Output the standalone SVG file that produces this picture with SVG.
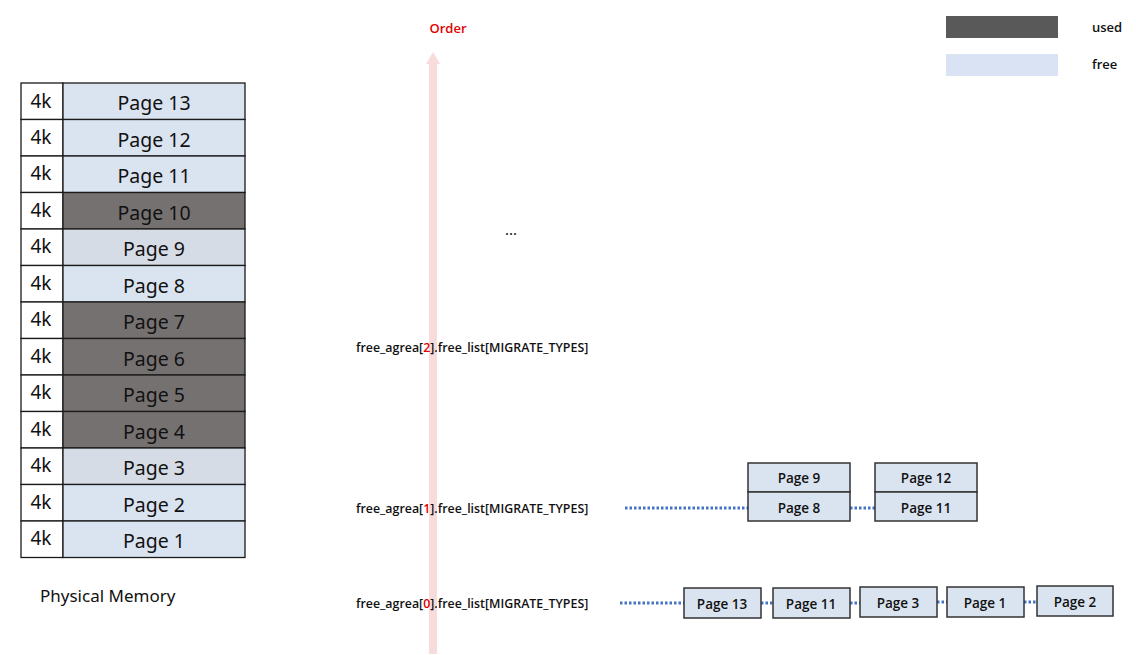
<svg xmlns="http://www.w3.org/2000/svg" width="1136" height="655" viewBox="0 0 1136 655">
<style>
.cell{stroke:#1a1a1a;stroke-width:1.3}
.k{fill:#fff}
.fr{fill:#dae3f0}
.fg{fill:#d6dce5}
.us{fill:#767171}
.t{font-family:"Noto Sans","DejaVu Sans",sans-serif;font-size:19.5px;fill:#111;text-anchor:middle;dominant-baseline:central}
.k4{font-family:"Noto Sans","DejaVu Sans",sans-serif;font-size:19px;fill:#111;text-anchor:middle;dominant-baseline:central}
.lbl{font-family:"Open Sans","Liberation Sans",sans-serif;font-size:12.4px;font-weight:600;fill:#111;dominant-baseline:central}
.box{fill:#dae3f0;stroke:#333;stroke-width:1.5}
.bt{font-family:"Open Sans","Liberation Sans",sans-serif;font-size:13.5px;font-weight:600;fill:#111;text-anchor:middle;dominant-baseline:central}
.dot{stroke:#4472c4;stroke-width:3;stroke-dasharray:2.5 2}
</style>
<g id="order-arrow">
<rect x="429" y="62" width="8" height="592" fill="#f8dcdc"/>
<polygon points="426,64 433,52 440,64" fill="#f8dcdc"/>
<text x="448" y="28" class="lbl" style="fill:#e00000;font-size:13px;text-anchor:middle">Order</text>
</g>
<g id="legend">
<rect x="946" y="16" width="112" height="22" fill="#595959"/>
<text x="1092" y="27" class="lbl" style="font-size:13px">used</text>
<rect x="946" y="54" width="112" height="22" fill="#dae3f3"/>
<text x="1092" y="64" class="lbl" style="font-size:13px">free</text>
</g>
<g id="physical-memory">
<g id="row13"><rect class="cell k" x="21" y="83" width="42" height="36.5"/><rect class="cell fr" x="63" y="83" width="182" height="36.5"/><text class="k4" x="41" y="101">4k</text><text class="t" x="154" y="102">Page 13</text></g>
<g id="row12"><rect class="cell k" x="21" y="119.5" width="42" height="36.5"/><rect class="cell fr" x="63" y="119.5" width="182" height="36.5"/><text class="k4" x="41" y="137">4k</text><text class="t" x="154" y="139">Page 12</text></g>
<g id="row11"><rect class="cell k" x="21" y="156" width="42" height="36.5"/><rect class="cell fr" x="63" y="156" width="182" height="36.5"/><text class="k4" x="41" y="173">4k</text><text class="t" x="154" y="175">Page 11</text></g>
<g id="row10"><rect class="cell k" x="21" y="192.5" width="42" height="36.5"/><rect class="cell us" x="63" y="192.5" width="182" height="36.5"/><text class="k4" x="41" y="210">4k</text><text class="t" x="154" y="212">Page 10</text></g>
<g id="row9"><rect class="cell k" x="21" y="229" width="42" height="36.5"/><rect class="cell fg" x="63" y="229" width="182" height="36.5"/><text class="k4" x="41" y="246">4k</text><text class="t" x="154" y="248">Page 9</text></g>
<g id="row8"><rect class="cell k" x="21" y="265.5" width="42" height="36.5"/><rect class="cell fr" x="63" y="265.5" width="182" height="36.5"/><text class="k4" x="41" y="283">4k</text><text class="t" x="154" y="285">Page 8</text></g>
<g id="row7"><rect class="cell k" x="21" y="302" width="42" height="36.5"/><rect class="cell us" x="63" y="302" width="182" height="36.5"/><text class="k4" x="41" y="319">4k</text><text class="t" x="154" y="321">Page 7</text></g>
<g id="row6"><rect class="cell k" x="21" y="338.5" width="42" height="36.5"/><rect class="cell us" x="63" y="338.5" width="182" height="36.5"/><text class="k4" x="41" y="356">4k</text><text class="t" x="154" y="358">Page 6</text></g>
<g id="row5"><rect class="cell k" x="21" y="375" width="42" height="36.5"/><rect class="cell us" x="63" y="375" width="182" height="36.5"/><text class="k4" x="41" y="392">4k</text><text class="t" x="154" y="394">Page 5</text></g>
<g id="row4"><rect class="cell k" x="21" y="411.5" width="42" height="36.5"/><rect class="cell us" x="63" y="411.5" width="182" height="36.5"/><text class="k4" x="41" y="429">4k</text><text class="t" x="154" y="431">Page 4</text></g>
<g id="row3"><rect class="cell k" x="21" y="448" width="42" height="36.5"/><rect class="cell fg" x="63" y="448" width="182" height="36.5"/><text class="k4" x="41" y="465">4k</text><text class="t" x="154" y="467">Page 3</text></g>
<g id="row2"><rect class="cell k" x="21" y="484.5" width="42" height="36.5"/><rect class="cell fr" x="63" y="484.5" width="182" height="36.5"/><text class="k4" x="41" y="502">4k</text><text class="t" x="154" y="504">Page 2</text></g>
<g id="row1"><rect class="cell k" x="21" y="521" width="42" height="36.5"/><rect class="cell fr" x="63" y="521" width="182" height="36.5"/><text class="k4" x="41" y="538">4k</text><text class="t" x="154" y="540">Page 1</text></g>
<text x="40" y="595" style="font-family:'Noto Sans','DejaVu Sans',sans-serif;font-size:17px;fill:#111;dominant-baseline:central">Physical Memory</text>
</g>
<g id="ellipsis"><text x="511" y="229" style="font-family:'Noto Sans','DejaVu Sans',sans-serif;font-size:15px;fill:#111;text-anchor:middle;dominant-baseline:central">...</text></g>
<g id="labels">
<text x="356" y="347" class="lbl">free_agrea[<tspan fill="#e00000" style="fill:#e00000">2</tspan>].free_list[MIGRATE_TYPES]</text>
<text x="356" y="508" class="lbl">free_agrea[<tspan fill="#e00000" style="fill:#e00000">1</tspan>].free_list[MIGRATE_TYPES]</text>
<text x="356" y="603" class="lbl">free_agrea[<tspan fill="#e00000" style="fill:#e00000">0</tspan>].free_list[MIGRATE_TYPES]</text>
</g>
<g id="connectors">
<line class="dot" x1="625" y1="508" x2="748" y2="508"/>
<line class="dot" x1="850" y1="508" x2="875" y2="508"/>
<line class="dot" x1="620" y1="603" x2="684" y2="603"/>
<line class="dot" x1="761" y1="603" x2="773" y2="603"/>
<line class="dot" x1="850" y1="603" x2="860" y2="603"/>
<line class="dot" x1="937" y1="602" x2="947" y2="602"/>
<line class="dot" x1="1024" y1="602" x2="1037" y2="602"/>
</g>
<g id="order1-block-a"><rect class="box" x="748" y="463" width="102" height="29"/><text class="bt" x="799" y="478">Page 9</text><rect class="box" x="748" y="492" width="102" height="29"/><text class="bt" x="799" y="508">Page 8</text></g>
<g id="order1-block-b"><rect class="box" x="875" y="463" width="102" height="29"/><text class="bt" x="926" y="478">Page 12</text><rect class="box" x="875" y="492" width="102" height="29"/><text class="bt" x="926" y="508">Page 11</text></g>
<g id="o0-p13"><rect class="box" x="684" y="588" width="77" height="30"/><text class="bt" x="722" y="604">Page 13</text></g>
<g id="o0-p11"><rect class="box" x="773" y="588" width="77" height="30"/><text class="bt" x="811" y="604">Page 11</text></g>
<g id="o0-p3"><rect class="box" x="860" y="587" width="77" height="30"/><text class="bt" x="898" y="603">Page 3</text></g>
<g id="o0-p1"><rect class="box" x="947" y="587" width="77" height="30"/><text class="bt" x="985" y="603">Page 1</text></g>
<g id="o0-p2"><rect class="box" x="1037" y="586" width="76" height="30"/><text class="bt" x="1075" y="602">Page 2</text></g>
</svg>
